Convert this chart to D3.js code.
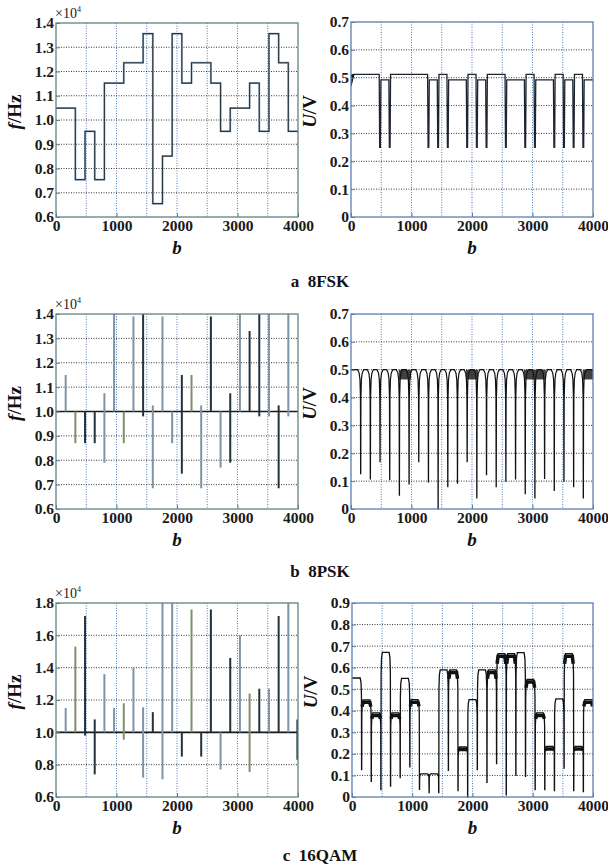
<!DOCTYPE html>
<html>
<head>
<meta charset="utf-8">
<script src="https://cdn.jsdelivr.net/npm/d3@7"></script>
<style>
  body { margin: 0; background: #fff; }
  svg text { font-family: "Liberation Serif", "DejaVu Serif", serif; }
</style>
</head>
<body>
<svg id="chart" width="608" height="865"></svg>
<script>
// ---- data ----
const bTicks = [0, 1000, 2000, 3000, 4000];
const bGrid = [500, 1000, 1500, 2000, 2500, 3000, 3500];

// a: 8FSK instantaneous frequency (x1e4 Hz), step starts
const fskSteps = [
  [0, 1.049], [320, 0.754], [480, 0.953], [640, 0.754], [800, 1.152],
  [1120, 1.236], [1440, 1.356], [1600, 0.655], [1760, 0.851], [1920, 1.356],
  [2080, 1.152], [2240, 1.236], [2560, 1.152], [2720, 0.953], [2880, 1.049],
  [3200, 1.152], [3360, 0.953], [3520, 1.356], [3680, 1.236], [3840, 0.953]
];
// a: 8FSK envelope, segments [start, end, level]
const fskEnv = [
  [0, 480, 0.512], [480, 640, 0.492], [640, 1280, 0.512], [1280, 1440, 0.492],
  [1440, 1600, 0.512], [1600, 1920, 0.492], [1920, 2080, 0.512], [2080, 2240, 0.492],
  [2240, 2560, 0.512], [2560, 2880, 0.492], [2880, 3040, 0.512], [3040, 3360, 0.492],
  [3360, 3520, 0.512], [3520, 3680, 0.492], [3680, 3840, 0.512], [3840, 4000, 0.492]
];
const fskDipMin = [0.25, 0.25, 0.25, 0.25, 0.25, 0.25, 0.25, 0.25, 0.25, 0.25, 0.25, 0.25, 0.25, 0.25, 0.25];

// b: 8PSK frequency spikes [b, top, bottom, tone]
const pskSpikes = [
  [160, 1.15, 1.0, "l"], [320, 1.0, 0.87, "o"], [480, 1.0, 0.87, "d"], [640, 1.0, 0.87, "d"],
  [800, 1.075, 0.79, "l"], [960, 1.4, 1.0, "l"], [1120, 1.0, 0.87, "o"], [1280, 1.39, 1.0, "l"],
  [1440, 1.4, 0.98, "d"], [1600, 1.025, 0.685, "l"], [1760, 1.39, 1.0, "l"], [1920, 1.0, 0.87, "l"],
  [2080, 1.15, 0.745, "d"], [2240, 1.15, 1.0, "o"], [2400, 1.025, 0.685, "l"], [2560, 1.39, 1.0, "d"],
  [2720, 1.0, 0.77, "l"], [2880, 1.075, 0.79, "d"], [3040, 1.4, 1.0, "l"], [3200, 1.33, 1.0, "d"],
  [3360, 1.4, 0.98, "d"], [3520, 1.4, 0.98, "l"], [3680, 1.025, 0.685, "d"], [3840, 1.4, 0.98, "l"]
];
// b: 8PSK envelope dips [b, minimum]
const pskDips = [
  [160, 0.127], [320, 0.108], [480, 0.17], [640, 0.105], [800, 0.05], [960, 0.09],
  [1120, 0.17], [1280, 0.097], [1440, 0.0], [1600, 0.08], [1760, 0.093], [1920, 0.17],
  [2080, 0.04], [2240, 0.123], [2400, 0.08], [2560, 0.1], [2720, 0.108], [2880, 0.055],
  [3040, 0.04], [3200, 0.11], [3360, 0.067], [3520, 0.1], [3680, 0.08], [3840, 0.04]
];
const pskRipple = [[790, 990], [1900, 2100], [2860, 3220], [3830, 4000]];

// c: 16QAM frequency spikes [b, top, bottom, tone]
const qamSpikes = [
  [160, 1.15, 1.0, "l"], [320, 1.53, 1.0, "o"], [480, 1.72, 0.98, "d"], [640, 1.08, 0.74, "d"],
  [800, 1.36, 1.0, "l"], [960, 1.15, 1.0, "l"], [1120, 1.18, 0.955, "o"], [1280, 1.40, 1.0, "l"],
  [1440, 1.155, 0.72, "l"], [1600, 1.125, 1.0, "d"], [1760, 1.8, 0.71, "l"], [1920, 1.8, 1.0, "l"],
  [2080, 1.0, 0.85, "d"], [2240, 1.76, 1.0, "o"], [2400, 1.0, 0.85, "d"], [2560, 1.76, 1.0, "d"],
  [2720, 1.0, 0.77, "l"], [2880, 1.46, 1.0, "d"], [3040, 1.6, 1.0, "l"], [3200, 1.24, 0.755, "o"],
  [3360, 1.27, 1.0, "d"], [3520, 1.27, 1.0, "l"], [3680, 1.72, 1.0, "d"], [3840, 1.8, 1.0, "l"],
  [3990, 1.08, 0.83, "d"]
];
// c: 16QAM envelope, one level per symbol (160 b), dip minima between symbols
const qamLevels = [
  0.552, 0.451, 0.39, 0.671, 0.39, 0.55, 0.452, 0.107, 0.107, 0.59, 0.59, 0.232, 0.452,
  0.59, 0.59, 0.665, 0.665, 0.67, 0.545, 0.39, 0.235, 0.455, 0.665, 0.235, 0.452
];
const qamDipMin = [
  0.127, 0.073, 0.034, 0.05, 0.09, 0.14, 0.035, 0.02, 0.02, 0.124, 0.03, 0.0,
  0.127, 0.068, 0.155, 0.01, 0.1, 0.096, 0.034, 0.034, 0.03, 0.134, 0.03, 0.025
];
const qamRipple = [0, 1, 1, 0, 1, 0, 1, 0, 0, 0, 1, 1, 0, 0, 1, 1, 1, 0, 1, 1, 1, 0, 1, 1, 1];
const symbolLen = 160;

const titles = ["a  8FSK", "b  8PSK", "c  16QAM"];

// ---- layout ----
const svg = d3.select("#chart");
const toneColor = { l: "#7d93a6", d: "#24323c", o: "#7f8f6a" };
const frameLeft = "#5f8580", frameRight = "#5b7fae";

const panels = [
  { id: "a1", x0: 56, x1: 298, y0: 23, y1: 217, dom: [0.6, 1.4], step: 0.1, fmt: d3.format(".1f"), freq: true },
  { id: "a2", x0: 351, x1: 593, y0: 22, y1: 217, dom: [0, 0.7], step: 0.1, fmt: d => d === 0 ? "0" : d3.format(".1f")(d) },
  { id: "b1", x0: 56, x1: 298, y0: 314, y1: 509, dom: [0.6, 1.4], step: 0.1, fmt: d3.format(".1f"), freq: true },
  { id: "b2", x0: 351, x1: 593, y0: 314, y1: 509, dom: [0, 0.7], step: 0.1, fmt: d => d === 0 ? "0" : d3.format(".1f")(d) },
  { id: "c1", x0: 56, x1: 298, y0: 603, y1: 797, dom: [0.6, 1.8], step: 0.2, fmt: d3.format(".1f"), freq: true },
  { id: "c2", x0: 352, x1: 593, y0: 603, y1: 797, dom: [0, 0.9], step: 0.1, fmt: d => d === 0 ? "0" : d3.format(".1f")(d) }
];

function drawPanel(p) {
  const g = svg.append("g").attr("id", p.id);
  const x = d3.scaleLinear().domain([0, 4000]).range([p.x0, p.x1]);
  const y = d3.scaleLinear().domain(p.dom).range([p.y1, p.y0]);
  const yTicks = d3.range(p.dom[0], p.dom[1] + p.step / 2, p.step).map(v => +v.toFixed(2));
  const frame = p.freq ? frameLeft : frameRight;

  g.append("rect")
    .attr("x", p.x0).attr("y", p.y0)
    .attr("width", p.x1 - p.x0).attr("height", p.y1 - p.y0)
    .attr("fill", "#fff");

  // grid
  g.append("g").selectAll("line").data(bGrid).join("line")
    .attr("x1", d => x(d)).attr("x2", d => x(d))
    .attr("y1", p.y0).attr("y2", p.y1)
    .attr("stroke", "#4f7fb8").attr("stroke-width", 1)
    .attr("stroke-dasharray", "1,1.5");
  g.append("g").selectAll("line").data(yTicks.slice(1, -1)).join("line")
    .attr("x1", p.x0).attr("x2", p.x1)
    .attr("y1", d => y(d)).attr("y2", d => y(d))
    .attr("stroke", "#3a3a3a").attr("stroke-width", 1)
    .attr("stroke-dasharray", "1,1.5");

  const plot = g.append("g").attr("clip-path", `url(#clip-${p.id})`);
  svg.append("clipPath").attr("id", `clip-${p.id}`)
    .append("rect").attr("x", p.x0).attr("y", p.y0 - 1)
    .attr("width", p.x1 - p.x0).attr("height", p.y1 - p.y0 + 2);

  // axes
  const ax = g.append("g").attr("transform", `translate(0,${p.y1})`)
    .call(d3.axisBottom(x).tickValues(bTicks).tickSize(-4).tickPadding(4).tickFormat(d3.format("d")));
  const ay = g.append("g").attr("transform", `translate(${p.x0},0)`)
    .call(d3.axisLeft(y).tickValues(yTicks).tickSize(-4).tickPadding(2).tickFormat(p.fmt));
  [ax, ay].forEach(a => {
    a.select(".domain").remove();
    a.selectAll(".tick line").attr("stroke", frame);
    a.selectAll("text").attr("font-family", "Liberation Serif")
      .attr("font-weight", "bold").attr("font-size", 15.5).attr("fill", "#1a1a1a");
  });
  ax.selectAll("text").attr("dy", "0.62em");

  // frame
  g.append("rect")
    .attr("x", p.x0).attr("y", p.y0)
    .attr("width", p.x1 - p.x0).attr("height", p.y1 - p.y0)
    .attr("fill", "none").attr("stroke", frame).attr("stroke-width", 1.3);

  // axis titles
  g.append("text")
    .attr("x", (p.x0 + p.x1) / 2).attr("y", p.y1 + 37)
    .attr("text-anchor", "middle").attr("font-size", 19)
    .attr("font-weight", "bold").attr("font-style", "italic").attr("fill", "#111")
    .text("b");
  const yl = g.append("text")
    .attr("transform", `translate(${p.x0 - 35},${(p.y0 + p.y1) / 2 - 8}) rotate(-90)`)
    .attr("text-anchor", "middle").attr("font-size", 19)
    .attr("font-weight", "bold").attr("fill", "#111");
  if (p.freq) {
    yl.append("tspan").attr("font-style", "italic").text("f");
    yl.append("tspan").text("/Hz");
    g.append("text").attr("x", p.x0 - 1).attr("y", p.y0 - 5)
      .attr("font-size", 14).attr("fill", "#222")
      .text("×10").append("tspan").attr("font-size", 8).attr("dy", -6).text("4");
  } else {
    yl.append("tspan").attr("font-style", "italic").text("U");
    yl.append("tspan").text("/V");
  }
  return { x, y, plot, frame: g };
}

const P = panels.map(drawPanel);

// ---- a1: FSK frequency steps ----
{
  const { x, y, plot } = P[0];
  const pts = fskSteps.concat([[4000, fskSteps[fskSteps.length - 1][1]]]);
  const step = d3.line().x(d => x(d[0])).y(d => y(d[1])).curve(d3.curveStepAfter);
  plot.append("path").datum(pts).attr("d", step)
    .attr("fill", "none").attr("stroke", "#8aa6c2").attr("stroke-width", 1.9);
  plot.append("path").datum(pts).attr("d", step)
    .attr("fill", "none").attr("stroke", "#2a363e").attr("stroke-width", 1.1);
}

// ---- a2: FSK envelope ----
{
  const { x, y, plot } = P[1];
  const pts = [[0, 0.47]];
  fskEnv.forEach((s, i) => {
    pts.push([s[0] + (i ? 14 : 40), s[2]], [s[1] - 14, s[2]]);
    if (i < fskDipMin.length) pts.push([s[1] - 6, fskDipMin[i]], [s[1] + 6, fskDipMin[i]]);
    else pts.push([s[1], s[2]]);
  });
  plot.append("path").datum(pts)
    .attr("d", d3.line().x(d => x(d[0])).y(d => y(d[1])))
    .attr("fill", "none").attr("stroke", "#1c2430").attr("stroke-width", 1.3);
  // startup transient near b = 0
  plot.append("path").datum([[0, 0.47], [60, 0.512], [0, 0.512]])
    .attr("d", d3.line().x(d => x(d[0])).y(d => y(d[1])))
    .attr("fill", "#111");
}

// ---- spikes (b1, c1) ----
function drawSpikes(panel, spikes) {
  const { x, y, plot } = panel;
  plot.append("line")
    .attr("x1", x(0)).attr("x2", x(4000)).attr("y1", y(1)).attr("y2", y(1))
    .attr("stroke", "#1a1a1a").attr("stroke-width", 1.6);
  plot.append("g").selectAll("line").data(spikes).join("line")
    .attr("x1", d => x(d[0])).attr("x2", d => x(d[0]))
    .attr("y1", d => y(d[1])).attr("y2", d => y(d[2]))
    .attr("stroke", d => toneColor[d[3]]).attr("stroke-width", 2);
}
drawSpikes(P[2], pskSpikes);
drawSpikes(P[4], qamSpikes);

// ---- b2: PSK envelope ----
{
  const { x, y, plot } = P[3];
  const top = 0.5;
  const pts = [[0, top]];
  pskDips.forEach(([b, m]) => {
    pts.push([b - 50, top], [b - 25, 0.488], [b - 12, 0.465], [b - 4, 0.4],
             [b - 1, m], [b + 1, m], [b + 4, 0.4], [b + 12, 0.465], [b + 25, 0.488], [b + 50, top]);
  });
  pts.push([4000, top]);
  plot.append("path").datum(pts)
    .attr("d", d3.line().x(d => x(d[0])).y(d => y(d[1])))
    .attr("fill", "none").attr("stroke", "#111").attr("stroke-width", 1.2);
  plot.append("g").selectAll("rect").data(pskRipple).join("rect")
    .attr("x", d => x(d[0])).attr("width", d => x(d[1]) - x(d[0]))
    .attr("y", y(top)).attr("height", y(0.465) - y(top))
    .attr("fill", "#111").attr("opacity", 0.8);
}

// ---- c2: QAM envelope ----
{
  const { x, y, plot } = P[5];
  const pts = [[0, qamLevels[0]]];
  qamLevels.forEach((lv, i) => {
    const b0 = i * symbolLen, b1 = b0 + symbolLen;
    if (i > 0) pts.push([b0 + 3, lv * 0.85], [b0 + 10, lv * 0.96], [b0 + 24, lv]);
    if (i < qamDipMin.length) {
      pts.push([b1 - 24, lv], [b1 - 10, lv * 0.96], [b1 - 3, lv * 0.85],
               [b1 - 1, qamDipMin[i]], [b1 + 1, qamDipMin[i]]);
    } else pts.push([4000, lv]);
  });
  plot.append("path").datum(pts)
    .attr("d", d3.line().x(d => x(d[0])).y(d => y(d[1])))
    .attr("fill", "none").attr("stroke", "#111").attr("stroke-width", 1.3);
  // ripple blobs on top of some symbols
  const rip = qamLevels.map((lv, i) => ({ lv, i })).filter(d => qamRipple[d.i]);
  plot.append("g").selectAll("path").data(rip).join("path")
    .attr("d", d => {
      const b0 = d.i * symbolLen, b1 = b0 + symbolLen;
      return d3.line().x(p => x(p[0])).y(p => y(p[1]))([
        [b0 + 8, d.lv * 0.93], [b0 + 24, d.lv - 0.012], [b1 - 24, d.lv - 0.012], [b1 - 8, d.lv * 0.93]
      ]);
    })
    .attr("fill", "none").attr("stroke", "#111").attr("stroke-width", 3.5);
}

// ---- sub-figure titles ----
svg.selectAll(".subtitle").data(titles).join("text")
  .attr("class", "subtitle")
  .attr("x", 320).attr("y", (d, i) => [287, 577, 861][i])
  .attr("text-anchor", "middle").attr("font-size", 17)
  .attr("font-weight", "bold").attr("fill", "#111")
  .attr("xml:space", "preserve").style("white-space", "pre")
  .text(d => d);
</script>
</body>
</html>
